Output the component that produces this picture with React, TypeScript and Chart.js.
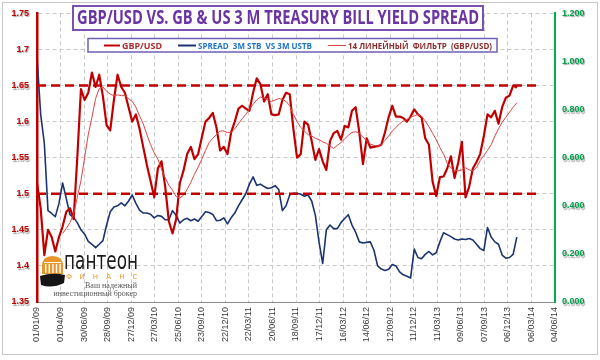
import React, { useEffect, useRef } from "react";
import { Chart, registerables } from "chart.js";

Chart.register(...registerables);

// ---------- data ----------
const startDateUTC = Date.UTC(2009, 0, 1);
const sampleStepDays = 14;
const xMaxDays = 1980;
const xTickStepDays = 90;

const leftMin = 1.35;
const leftMax = 1.75;
const leftStep = 0.05;
const rightMin = 0;
const rightMax = 1.2;
const rightStep = 0.2;

const titleText = "GBP/USD VS. GB & US 3 M TREASURY BILL YIELD SPREAD";
const seriesNames = ["GBP/USD", "SPREAD  3M STB  VS 3M USTB", "14 ЛИНЕЙНЫЙ  ФИЛЬТР  (GBP/USD)"];

const upperLevel = 1.65;
const lowerLevel = 1.5;
const levelEndDay = 1923;

const gbpUsd = [
  1.515, 1.48, 1.415, 1.45, 1.44, 1.42, 1.44, 1.455, 1.475, 1.48,
  1.465, 1.55, 1.645, 1.63, 1.64, 1.668, 1.648, 1.665, 1.635, 1.595,
  1.588, 1.63, 1.665, 1.648, 1.64, 1.62, 1.6, 1.61, 1.59, 1.565,
  1.54, 1.518, 1.495, 1.535, 1.545, 1.51, 1.462, 1.445, 1.465, 1.515,
  1.532, 1.555, 1.565, 1.548, 1.555, 1.578, 1.6, 1.605, 1.612, 1.592,
  1.56, 1.565, 1.555, 1.585, 1.6, 1.618, 1.622, 1.618, 1.615, 1.64,
  1.66, 1.652, 1.628, 1.638, 1.61, 1.609, 1.61, 1.63, 1.64, 1.638,
  1.59, 1.55, 1.555, 1.6, 1.596, 1.573, 1.547, 1.562, 1.545, 1.533,
  1.573, 1.584, 1.587, 1.575, 1.594, 1.592, 1.615, 1.62, 1.585, 1.541,
  1.577, 1.564, 1.565, 1.566, 1.568, 1.585, 1.606, 1.622, 1.607, 1.607,
  1.605, 1.6, 1.607, 1.617, 1.61, 1.606, 1.577, 1.568, 1.517, 1.497,
  1.523, 1.524, 1.535, 1.552, 1.522, 1.543, 1.572, 1.495, 1.51, 1.535,
  1.544, 1.555, 1.58, 1.61, 1.606, 1.615, 1.597, 1.62, 1.633, 1.636,
  1.65, 1.647,
];

const spread = [
  1.02, 0.78, 0.66, 0.38, 0.368, 0.355, 0.41, 0.495, 0.43, 0.363,
  0.352, 0.33, 0.3, 0.282, 0.252, 0.24, 0.226, 0.24, 0.255, 0.32,
  0.375, 0.395, 0.4, 0.412, 0.4, 0.42, 0.445, 0.41, 0.382, 0.37,
  0.37, 0.365, 0.35, 0.36, 0.356, 0.342, 0.342, 0.38, 0.36, 0.328,
  0.342, 0.348, 0.338, 0.345, 0.336, 0.356, 0.375, 0.372, 0.364, 0.338,
  0.34, 0.35, 0.325, 0.35, 0.37, 0.4, 0.425, 0.45, 0.49, 0.52,
  0.485, 0.49, 0.48, 0.472, 0.475, 0.484, 0.468, 0.38, 0.4, 0.445,
  0.452, 0.452, 0.448, 0.44, 0.445, 0.42, 0.36, 0.25, 0.16, 0.3,
  0.32, 0.305, 0.305, 0.33, 0.347, 0.363, 0.32, 0.29, 0.25, 0.245,
  0.248, 0.25, 0.215, 0.15, 0.137, 0.131, 0.136, 0.156, 0.15, 0.125,
  0.113, 0.107, 0.1, 0.22, 0.185, 0.18, 0.198, 0.21, 0.196, 0.205,
  0.25, 0.288, 0.28, 0.272, 0.262, 0.258, 0.262, 0.26, 0.264, 0.258,
  0.24, 0.222, 0.214, 0.31, 0.27, 0.25, 0.24, 0.195, 0.182, 0.185,
  0.198, 0.27,
];

const filter14: (number | null)[] = [
  null, null, null, null, null, null, null,
  1.445, 1.452, 1.46, 1.472, 1.495, 1.518, 1.55, 1.582, 1.606, 1.632,
  1.646, 1.648, 1.642, 1.638, 1.636, 1.637, 1.636, 1.636, 1.632, 1.628,
  1.62, 1.608, 1.597, 1.582, 1.568, 1.557, 1.548, 1.534, 1.522, 1.512,
  1.505, 1.496, 1.494, 1.498, 1.506, 1.516, 1.527, 1.537, 1.548, 1.56,
  1.571, 1.577, 1.582, 1.587, 1.587, 1.585, 1.585, 1.59, 1.597, 1.604,
  1.61, 1.617, 1.624, 1.63, 1.634, 1.633, 1.63, 1.628, 1.63, 1.632,
  1.631, 1.628, 1.622, 1.61, 1.6, 1.592, 1.587, 1.582, 1.58, 1.577,
  1.575, 1.572, 1.57, 1.566, 1.563, 1.567, 1.571, 1.576, 1.581, 1.585,
  1.586, 1.584, 1.579, 1.573, 1.569, 1.567, 1.566, 1.568, 1.574, 1.58,
  1.587, 1.592, 1.597, 1.601, 1.603, 1.606, 1.608, 1.61, 1.607, 1.601,
  1.593, 1.584, 1.575, 1.564, 1.555, 1.542, 1.536, 1.532, 1.532, 1.533,
  1.536, 1.533, 1.532, 1.536, 1.546, 1.553, 1.56, 1.568, 1.58, 1.59,
  1.599, 1.606, 1.613, 1.62, 1.626,
];

// ---------- helpers ----------
const toPoints = (arr: (number | null)[]) =>
  arr.map((v, i) => ({ x: i * sampleStepDays, y: v }));

const fmtDate = (days: number) => {
  const d = new Date(startDateUTC + days * 86400000);
  const dd = String(d.getUTCDate()).padStart(2, "0");
  const mm = String(d.getUTCMonth() + 1).padStart(2, "0");
  const yy = String(d.getUTCFullYear() % 100).padStart(2, "0");
  return `${dd}/${mm}/${yy}`;
};

const RED = "#c00000";
const NAVY = "#1b3470";
const THIN_RED = "#dd4444";
const GREEN = "#00b050";
const GRID = "#c9c9c9";

const decorPlugin = {
  id: "decor",
  beforeDraw(chart: any) {
    const ctx = chart.ctx;
    ctx.save();
    ctx.fillStyle = "#ffffff";
    ctx.fillRect(0, 0, chart.width, chart.height);
    ctx.restore();
  },
  afterDatasetsDraw(chart: any) {
    // shadow for the y-axis tick labels, drawn in a later layer
    const ctx = chart.ctx;
    ctx.save();
    ctx.shadowColor = "rgba(0,0,0,0.35)";
    ctx.shadowOffsetX = 1;
    ctx.shadowOffsetY = 1.5;
    ctx.shadowBlur = 1;
  },
  afterDraw(chart: any) {
    const ctx: CanvasRenderingContext2D = chart.ctx;
    ctx.restore();
    ctx.save();
    // outer frame
    ctx.strokeStyle = "#c8c8c8";
    ctx.lineWidth = 1;
    ctx.strokeRect(2.5, 2.5, 595, 352);

    // title box
    ctx.fillStyle = "#ffffff";
    ctx.fillRect(73, 6, 410, 24);
    ctx.strokeStyle = "#7b52b3";
    ctx.lineWidth = 2;
    ctx.strokeRect(73, 6, 410, 24);
    ctx.fillStyle = "#6a34a2";
    ctx.font = "bold 19px 'Open Sans'";
    ctx.textAlign = "center";
    ctx.textBaseline = "middle";
    ctx.fillText(titleText, 278, 19, 402);

    // legend box
    ctx.fillStyle = "#ffffff";
    ctx.fillRect(88, 38.5, 409, 13.5);
    ctx.strokeStyle = "#6f5fb5";
    ctx.lineWidth = 1.5;
    ctx.strokeRect(88, 38.5, 409, 13.5);
    const ly = 45.5;
    const items = [
      { x1: 104, x2: 120, color: RED, w: 2, tx: 122, tw: 40, tc: "#b0282b", text: seriesNames[0] },
      { x1: 178, x2: 196, color: NAVY, w: 2, tx: 198, tw: 114, tc: "#1f74c6", text: seriesNames[1] },
      { x1: 328, x2: 346, color: THIN_RED, w: 1, tx: 348, tw: 144, tc: "#8a2c2c", text: seriesNames[2] },
    ];
    ctx.textAlign = "left";
    ctx.font = "bold 9px 'Open Sans'";
    for (const it of items) {
      ctx.strokeStyle = it.color;
      ctx.lineWidth = it.w;
      ctx.beginPath();
      ctx.moveTo(it.x1, ly);
      ctx.lineTo(it.x2, ly);
      ctx.stroke();
      ctx.fillStyle = it.tc;
      ctx.fillText(it.text, it.tx, ly + 0.5, it.tw);
    }

    // logo
    ctx.fillStyle = "#e8962a";
    ctx.beginPath();
    ctx.moveTo(42, 274);
    ctx.lineTo(42, 266);
    ctx.quadraticCurveTo(42, 256, 52.5, 256);
    ctx.quadraticCurveTo(63, 256, 63, 266);
    ctx.lineTo(63, 274);
    ctx.closePath();
    ctx.fill();
    ctx.fillStyle = "#ffffff";
    for (let k = 0; k < 5; k++) ctx.fillRect(45 + k * 3.6, 264, 1.4, 9);
    ctx.fillRect(44, 262, 17, 1);
    ctx.fillStyle = "#151515";
    ctx.beginPath();
    ctx.moveTo(40, 276);
    ctx.quadraticCurveTo(52, 272, 65, 275);
    ctx.lineTo(64, 283);
    ctx.quadraticCurveTo(52, 289, 41, 285);
    ctx.closePath();
    ctx.fill();

    ctx.fillStyle = "#1a1a1a";
    ctx.font = "24px 'DejaVu Sans'";
    ctx.textAlign = "left";
    ctx.textBaseline = "alphabetic";
    ctx.fillText("пантеон", 64, 269, 74);

    ctx.fillStyle = "#e8962a";
    ctx.font = "7px 'DejaVu Sans'";
    ctx.textAlign = "center";
    const fin = "ФИНАНС";
    for (let k = 0; k < fin.length; k++) ctx.fillText(fin[k], 69 + k * 13.2, 278.5);

    ctx.fillStyle = "#555555";
    ctx.font = "8px 'Liberation Serif'";
    ctx.textAlign = "right";
    ctx.fillText("Ваш надежный", 137, 288);
    ctx.fillText("инвестиционный брокер", 137, 296);

    ctx.restore();
  },
};

export default function App() {
  const canvasRef = useRef<HTMLCanvasElement | null>(null);

  useEffect(() => {
    if (!canvasRef.current) return;
    const chart = new Chart(canvasRef.current, {
      type: "line",
      data: {
        datasets: [
          {
            label: "upper",
            data: [{ x: 0, y: upperLevel }, { x: levelEndDay, y: upperLevel }],
            borderColor: RED,
            borderWidth: 2.5,
            borderDash: [9, 5],
            pointRadius: 0,
            yAxisID: "y",
            order: 0,
          },
          {
            label: "lower",
            data: [{ x: 0, y: lowerLevel }, { x: levelEndDay, y: lowerLevel }],
            borderColor: RED,
            borderWidth: 2.5,
            borderDash: [9, 5],
            pointRadius: 0,
            yAxisID: "y",
            order: 0,
          },
          {
            label: seriesNames[2],
            data: toPoints(filter14),
            borderColor: THIN_RED,
            borderWidth: 1,
            pointRadius: 0,
            yAxisID: "y",
            order: 1,
          },
          {
            label: seriesNames[0],
            data: toPoints(gbpUsd),
            borderColor: RED,
            borderWidth: 2.2,
            pointRadius: 0,
            borderJoinStyle: "round",
            yAxisID: "y",
            order: 2,
          },
          {
            label: seriesNames[1],
            data: toPoints(spread),
            borderColor: NAVY,
            borderWidth: 1.6,
            pointRadius: 0,
            borderJoinStyle: "round",
            yAxisID: "y1",
            order: 3,
          },
        ] as any,
      },
      plugins: [decorPlugin],
      options: {
        animation: false,
        responsive: false,
        maintainAspectRatio: false,
        layout: { padding: { top: 9, left: 0, right: 0, bottom: 0 } },
        plugins: {
          legend: { display: false },
          tooltip: { enabled: false },
          title: { display: false },
        },
        scales: {
          x: {
            type: "linear",
            min: 0,
            max: xMaxDays,
            ticks: {
              stepSize: xTickStepDays,
              autoSkip: false,
              maxRotation: 90,
              minRotation: 90,
              padding: 5,
              color: "#3a3a3a",
              font: { size: 9, family: "'Liberation Sans'" },
              callback: (v: any) => fmtDate(Number(v)),
            },
            grid: { color: GRID, drawTicks: false, lineWidth: 1 },
            border: { display: true, color: "#8c8c8c", width: 1, dash: [4, 3] },
            afterFit: (s: any) => {
              s.height = 58;
            },
          },
          y: {
            type: "linear",
            position: "left",
            min: leftMin,
            max: leftMax,
            ticks: {
              stepSize: leftStep,
              padding: 8,
              z: 1,
              color: RED,
              font: { size: 9, weight: "bold", family: "'Liberation Sans'" },
              callback: (v: any) => String(Number(Number(v).toFixed(2))),
            },
            grid: { color: GRID, drawTicks: false, lineWidth: 1 },
            border: { display: true, color: RED, width: 2.5, dash: [4, 3] },
            afterFit: (s: any) => {
              s.width = 37;
            },
          },
          y1: {
            type: "linear",
            position: "right",
            min: rightMin,
            max: rightMax,
            ticks: {
              stepSize: rightStep,
              padding: 7,
              z: 1,
              color: "#00a14b",
              font: { size: 9, weight: "bold", family: "'Liberation Sans'" },
              callback: (v: any) => Number(v).toFixed(3),
            },
            grid: { drawOnChartArea: false, drawTicks: false },
            border: { display: true, color: GREEN, width: 2 },
            afterFit: (s: any) => {
              s.width = 45;
            },
          },
        },
      } as any,
    });
    return () => chart.destroy();
  }, []);

  return (
    <div style={{ position: "absolute", left: 0, top: 0, width: 600, height: 360, background: "#fff" }}>
      <canvas ref={canvasRef} width={600} height={360} style={{ display: "block" }} />
    </div>
  );
}
